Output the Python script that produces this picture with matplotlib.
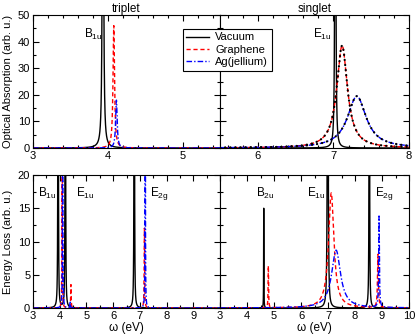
import numpy as np
import matplotlib
matplotlib.use("Agg")
import matplotlib.pyplot as plt
from matplotlib.ticker import MultipleLocator

plt.rcParams['font.family'] = ['Liberation Sans', 'DejaVu Sans']
plt.rcParams['mathtext.default'] = 'regular'
plt.rcParams['font.size'] = 8

#%% Peak tables: centre (eV), height, half width (eV)
# triplet, optical absorption
abs_t_vac = ([3.935], [300], [0.006])
abs_t_gra = ([4.08], [46], [0.012])
abs_t_ag = ([4.115], [18], [0.012])
# singlet, optical absorption
abs_s_vac = ([7.025], [400], [0.004])
abs_s_gra = ([7.115], [38.5], [0.085])
abs_s_ag = ([7.31], [19.5], [0.15])
# triplet, energy loss
loss_t_vac = ([3.94, 4.21, 6.79], [200, 200, 200], [0.005, 0.005, 0.005])
loss_t_gra = ([4.09, 4.42, 7.17], [60, 3.5, 12], [0.005, 0.01, 0.01])
loss_t_ag = ([4.11, 4.39, 7.20], [60, 1.0, 60], [0.006, 0.01, 0.006])
# singlet, energy loss
loss_s_vac = ([4.62, 6.99, 8.53], [15, 200, 200], [0.005, 0.008, 0.005])
loss_s_gra = ([4.79, 7.12, 8.85], [6.3, 17.3, 8.0], [0.01, 0.12, 0.02])
loss_s_ag = ([7.30, 8.89], [8.7, 13.7], [0.2, 0.015])

w = np.linspace(2.5, 10.5, 32001)


def espectro(picos):
    y = np.zeros_like(w)
    for c, h, g in zip(*picos):
        y += h * g**2 / ((w - c)**2 + g**2)
    return y


negro = dict(color='black', lw=1.0)
rojo = dict(color='#ff0000', lw=1.0, dashes=(3, 2))
azul = dict(color='#0000ff', lw=1.0, dashes=(4, 1.5, 1, 1.5))
punt = dict(color='black', lw=1.6, linestyle=(0, (0.1, 2.2)),
            solid_capstyle='round', dash_capstyle='round')

fig = plt.figure(figsize=(4.15, 3.36), dpi=100)
W, H = 415., 336.
def caja(x0, y0, x1, y1):
    return [x0/W, 1-y1/H, (x1-x0)/W, (y1-y0)/H]

ax1 = fig.add_axes(caja(33, 15, 220, 148))
ax2 = fig.add_axes(caja(220, 15, 409, 148))
ax3 = fig.add_axes(caja(33, 175, 220, 308))
ax4 = fig.add_axes(caja(220, 175, 409, 308))

#%% top left: triplet absorption
l1, = ax1.plot(w, espectro(abs_t_vac), **negro)
l2, = ax1.plot(w, espectro(abs_t_gra), **rojo)
l3, = ax1.plot(w, espectro(abs_t_ag), **azul)
ax1.set_xlim(3, 5.5)
ax1.set_ylim(0, 50)
ax1.set_xticks([3, 4, 5])
ax1.xaxis.set_minor_locator(MultipleLocator(0.2))
ax1.set_yticks([0, 10, 20, 30, 40, 50])
ax1.yaxis.set_minor_locator(MultipleLocator(5))
ax1.set_title('triplet', fontsize=8.5, pad=2)
ax1.set_ylabel('Optical Absorption (arb. u.)', fontsize=8)
ax1.yaxis.set_label_coords(-0.108, 0.5)
ax1.text(3.68, 42.5, 'B$_{1u}$', ha='left', va='center', fontsize=8.5)

#%% top right: singlet absorption
ax2.plot(w, espectro(abs_s_vac), **negro)
g = espectro(abs_s_gra)
a = espectro(abs_s_ag)
ax2.plot(w, g, **rojo)
ax2.plot(w, a, **azul)
ax2.plot(w, g, **punt)
ax2.plot(w, a, **punt)
ax2.set_xlim(5.5, 8)
ax2.set_ylim(0, 50)
ax2.set_xticks([6, 7, 8])
ax2.xaxis.set_minor_locator(MultipleLocator(0.2))
ax2.set_yticks([0, 10, 20, 30, 40, 50])
ax2.yaxis.set_minor_locator(MultipleLocator(5))
ax2.tick_params(labelleft=False)
ax2.set_title('singlet', fontsize=8.5, pad=2)
ax2.text(6.73, 42.5, 'E$_{1u}$', ha='left', va='center', fontsize=8.5)

#%% bottom left: triplet energy loss
ax3.plot(w, espectro(loss_t_vac), **negro)
ax3.plot(w, espectro(loss_t_gra), **rojo)
ax3.plot(w, espectro(loss_t_ag), **azul)
ax3.set_xlim(3, 10)
ax3.set_ylim(0, 20)
ax3.set_xticks(range(3, 11))
ax3.set_xticklabels(['3', '4', '5', '6', '7', '8', '9', ''])
ax3.xaxis.set_minor_locator(MultipleLocator(0.5))
ax3.set_yticks([0, 5, 10, 15, 20])
ax3.yaxis.set_minor_locator(MultipleLocator(2.5))
ax3.set_ylabel('Energy Loss (arb. u.)', fontsize=8)
ax3.yaxis.set_label_coords(-0.108, 0.5)
ax3.set_xlabel('ω (eV)', labelpad=1, fontsize=8.5)
ax3.text(3.2, 17.2, 'B$_{1u}$', ha='left', va='center', fontsize=8.5)
ax3.text(4.6, 17.2, 'E$_{1u}$', ha='left', va='center', fontsize=8.5)
ax3.text(7.37, 17.2, 'E$_{2g}$', ha='left', va='center', fontsize=8.5)

#%% bottom right: singlet energy loss
ax4.plot(w, espectro(loss_s_vac), **negro)
ax4.plot(w, espectro(loss_s_gra), **rojo)
ax4.plot(w, espectro(loss_s_ag), **azul)
ax4.set_xlim(3, 10)
ax4.set_ylim(0, 20)
ax4.set_xticks(range(3, 11))
ax4.xaxis.set_minor_locator(MultipleLocator(0.5))
ax4.set_yticks([0, 5, 10, 15, 20])
ax4.yaxis.set_minor_locator(MultipleLocator(2.5))
ax4.tick_params(labelleft=False)
ax4.set_xlabel('ω (eV)', labelpad=1, fontsize=8.5)
ax4.text(4.33, 17.2, 'B$_{2u}$', ha='left', va='center', fontsize=8.5)
ax4.text(6.23, 17.2, 'E$_{1u}$', ha='left', va='center', fontsize=8.5)
ax4.text(8.74, 17.2, 'E$_{2g}$', ha='left', va='center', fontsize=8.5)

for ax in (ax1, ax2, ax3, ax4):
    ax.tick_params(which='both', direction='in', top=True, right=True,
                   labelsize=8, pad=2)
    ax.tick_params(which='major', length=4, width=0.8)
    ax.tick_params(which='minor', length=2, width=0.8)

leg = fig.legend([l1, l2, l3], ['Vacuum', 'Graphene', 'Ag(jellium)'],
                 loc='upper left', bbox_to_anchor=(177/W, 1-23/H),
                 fontsize=8, fancybox=False, framealpha=1,
                 edgecolor='black', handlelength=2.0, borderpad=0.35,
                 labelspacing=0.2, handletextpad=0.6)
leg.get_frame().set_linewidth(0.8)

fig.savefig('out.png', dpi=100)
